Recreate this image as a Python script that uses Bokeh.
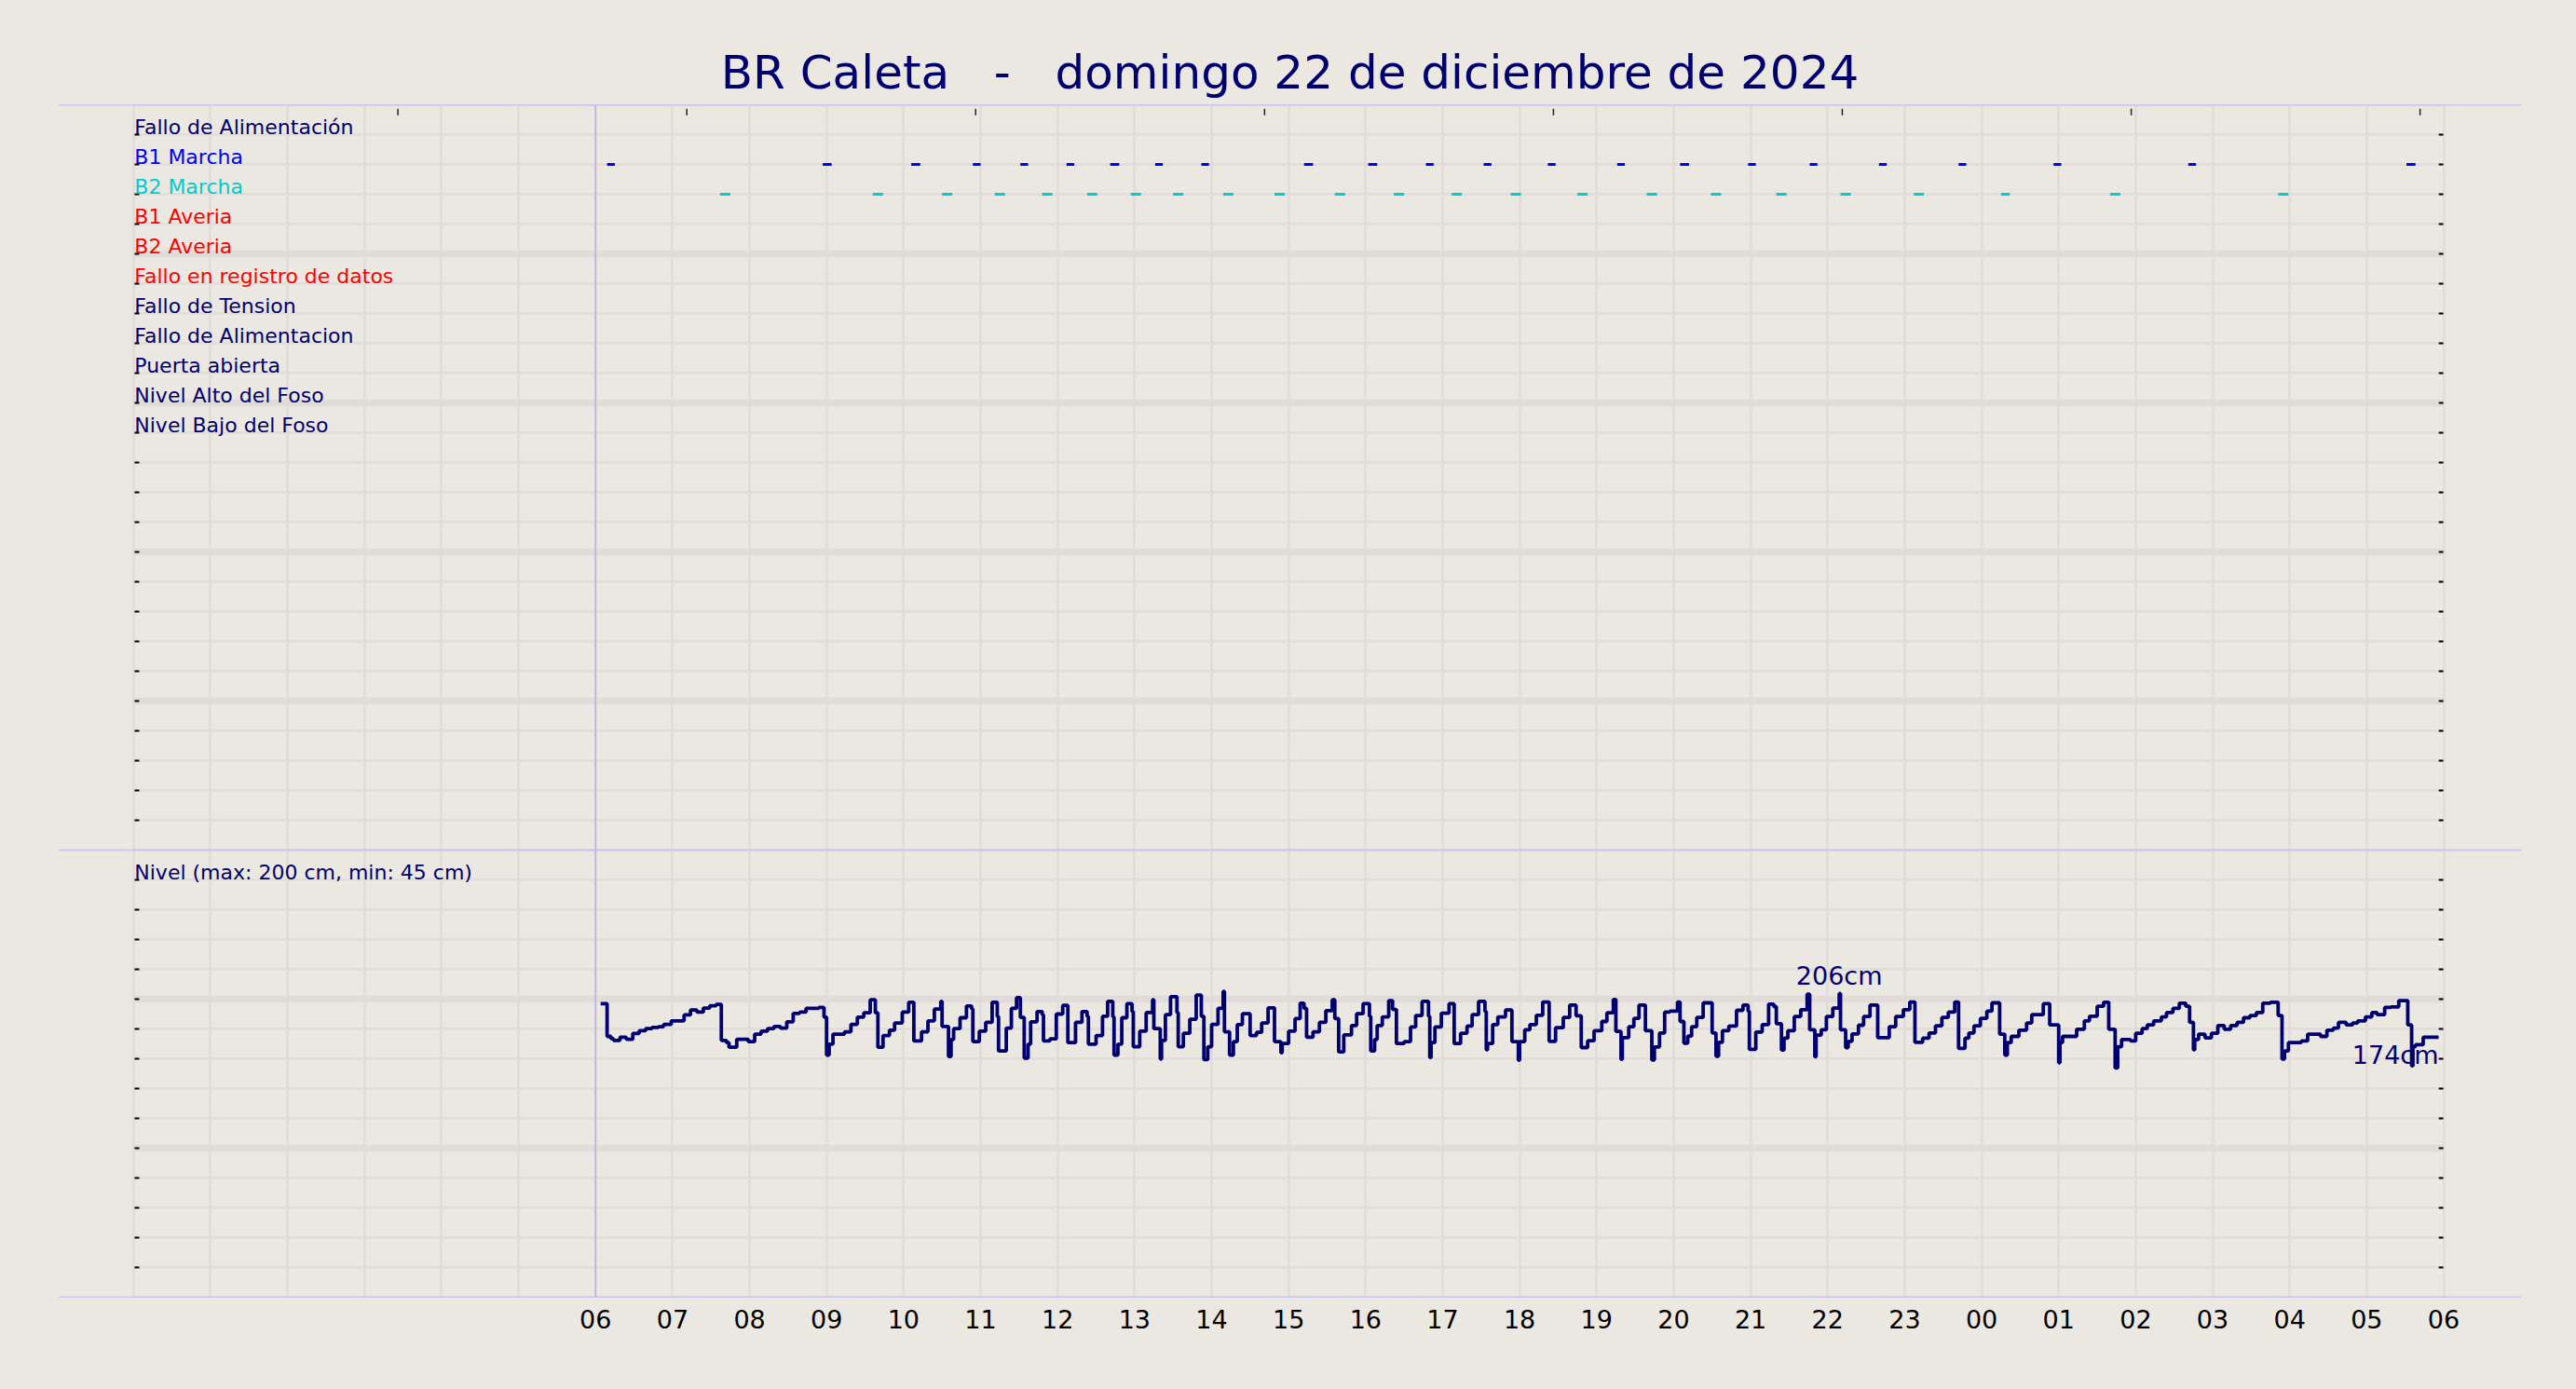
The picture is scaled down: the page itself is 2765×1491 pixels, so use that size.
from bokeh.plotting import figure
from bokeh.models import Range1d, FixedTicker, Span, Grid
from bokeh.layouts import column
from bokeh.embed import file_html
from bokeh.resources import INLINE
from bokeh.core.properties import value

# ---------------- data ----------------
titulo = "BR Caleta   -   domingo 22 de diciembre de 2024"

senales = ["Fallo de Alimentación", "B1 Marcha", "B2 Marcha", "B1 Averia", "B2 Averia",
           "Fallo en registro de datos", "Fallo de Tension", "Fallo de Alimentacion",
           "Puerta abierta", "Nivel Alto del Foso", "Nivel Bajo del Foso"]
colores_senales = ["#000070", "#0000ff", "#00cdcd", "#ff0000", "#ff0000", "#ff0000",
                   "#000070", "#000070", "#000070", "#000070", "#000070"]

horas_eje = list(range(6, 31))
etiquetas_horas = ["06", "07", "08", "09", "10", "11", "12", "13", "14", "15", "16", "17",
                   "18", "19", "20", "21", "22", "23", "00", "01", "02", "03", "04", "05", "06"]

etiqueta_nivel = "Nivel (max: 200 cm, min: 45 cm)"

# pump runs, minutes after 06:00
b1_ini = [9, 177, 246, 294, 331, 367, 401, 436, 472, 552, 602, 647, 692, 742, 796, 845,
          898, 946, 1000, 1062, 1136, 1241, 1411]
b1_fin = [15, 184, 253, 300, 337, 373, 408, 442, 478, 559, 609, 653, 698, 748, 802, 852,
          904, 952, 1006, 1068, 1142, 1247, 1418]
b2_ini = [97, 216, 270, 311, 348, 383, 417, 450, 489, 529, 576, 622, 667, 713, 765, 819,
          869, 920, 970, 1027, 1095, 1180, 1311]
b2_fin = [105, 224, 278, 319, 356, 391, 425, 458, 497, 537, 584, 630, 675, 721, 773, 827,
          877, 928, 978, 1035, 1102, 1188, 1319]

# level (cm), change points in minutes after 06:00
nivel_t = [
    4, 9, 12, 14, 19, 24, 29, 34, 39, 44,
    49, 53, 59, 69, 74, 79, 84, 89, 94, 98,
    102, 104, 110, 119, 124, 129, 134, 139, 144, 149,
    154, 159, 164, 174, 178, 180, 182, 185, 194, 199,
    204, 209, 214, 218, 220, 224, 229, 233, 239, 244,
    248, 254, 259, 264, 269, 270, 275, 277, 279, 284,
    289, 293, 294, 299, 304, 309, 313, 314, 320, 324,
    328, 331, 334, 337, 339, 344, 348, 349, 354, 359,
    364, 368, 374, 379, 383, 384, 390, 395, 399, 403,
    404, 407, 410, 414, 418, 419, 424, 429, 434, 435,
    440, 441, 444, 448, 453, 454, 458, 463, 468, 472,
    474, 477, 480, 485, 489, 490, 494, 497, 500, 504,
    510, 515, 519, 524, 529, 534, 535, 540, 545, 549,
    552, 554, 559, 564, 569, 574, 576, 579, 583, 589,
    593, 598, 603, 604, 607, 609, 613, 618, 621, 624,
    630, 635, 639, 644, 649, 650, 651, 654, 659, 665,
    669, 674, 679, 683, 688, 693, 694, 695, 699, 703,
    709, 714, 719, 720,
    724, 728, 733, 738, 743, 748, 754, 759, 764, 768,
    773, 778, 784, 788, 793, 795, 799, 800, 805, 809,
    813, 818, 823, 825, 829, 833, 837, 843, 845, 848,
    851, 854, 858, 863, 870, 873, 875, 878, 883, 889,
    894, 898, 899, 904, 909, 914, 918, 920, 924, 926,
    929, 934, 939, 944, 946, 950, 951, 955, 959, 964,
    969, 970, 974, 976, 979, 984, 988, 993, 999, 1008,
    1013, 1019, 1024, 1028, 1034, 1039, 1044, 1049, 1054, 1059,
    1062, 1067, 1070, 1074, 1079, 1084, 1088,
    1094, 1098, 1100, 1103, 1109, 1115, 1119, 1128, 1133, 1140,
    1141, 1143, 1154, 1160, 1164, 1170, 1175, 1179, 1184, 1186,
    1189, 1196, 1200, 1205, 1209, 1214, 1220, 1224, 1229, 1234,
    1239, 1242, 1245, 1246, 1249, 1254, 1259, 1264, 1269, 1274,
    1279, 1284, 1289, 1294, 1299, 1305, 1311, 1314, 1316, 1319,
    1329, 1334, 1344, 1349, 1354, 1358, 1364, 1369, 1373, 1379,
    1384, 1388, 1394, 1399, 1405, 1412, 1415, 1416, 1418, 1424,
    1436,
]
nivel_cm = [
    197, 175, 173.5, 172.3, 174.4, 173, 177, 178.8, 180.2, 181,
    181.5, 183, 185.4, 189.4, 192.7, 191.3, 194, 195.6, 196.5, 172.3,
    170.8, 167.7, 173.1, 171.5, 176.5, 178.5, 180.2, 181.7, 180.6, 184.8,
    190.4, 191.3, 193.8, 194.4, 187.9, 162.5, 169.8, 176.5, 178.1, 183.1,
    187.9, 190.8, 199.6, 190.8, 167.7, 175.6, 179.2, 184, 191.3, 197.9,
    171.9, 178.1, 185.4, 193.3, 198.5, 181.7, 161.5, 172.9, 180.2, 187.5,
    195.4, 193.5, 171.5, 178.5, 184.4, 197.9, 188.3, 165.2, 180.6, 193.8,
    201, 187.7, 160.4, 169.8, 184.8, 191.7, 189.6, 171.9, 173.3, 190,
    195.8, 170.8, 184.4, 191.7, 188.5, 169.8, 175.6, 188.5, 198.5, 188.1,
    162.5, 169.8, 187.5, 196.9, 191.7, 168.1, 178.5, 191, 199.6, 180.2,
    159.8, 172.3, 189.6, 201.7, 191, 168.1, 177.1, 186.5, 202.7, 188.5,
    159.4, 168.1, 183, 193.8, 205.2, 178.1, 162.5, 171.5, 182.9, 190.2,
    175.6, 177.7, 184, 194.2, 171.5, 164, 170.2, 178.5, 186.9, 197.3,
    193.8, 174.4, 178.1, 184.4, 192.3, 199.6, 186.9, 164.6, 176, 182.3,
    190.2, 196.9, 188.5, 165.2, 172.9, 182.3, 188.1, 199, 193.1, 170.2,
    171.5, 181.3, 189, 198.5, 188.5, 160.8, 170.8, 181.3, 190.6, 196.9,
    170.2, 177.1, 181.9, 189.6, 198.5, 191.7, 166, 170.2, 182.9, 188.1,
    192.7, 171.5, 159, 171.5,
    179.4, 182.9, 189.2, 198.1, 171.7, 180.8, 187.7, 196, 188.8, 167.5,
    172.1, 178.8, 185, 190.8, 199.8, 178.3, 159.6, 174.2, 181.5, 187.1,
    196, 178.8, 159.2, 167.9, 177.3, 191.3, 191.9, 198.1, 185, 170.4,
    175.2, 181.5, 187.7, 197.5, 177.3, 161.7, 171, 178.8, 181.9, 192.5,
    196, 191.9, 166.3, 177.9, 182.9, 196.7, 195, 183.5, 165.8, 173.8,
    178.8, 188.3, 192.9, 203.3, 179.4, 161.3, 175.8, 179.4, 188.3, 194,
    203.8, 179.4, 167.5, 171.7, 176.7, 182.5, 188.3, 196, 174.2, 181.5,
    188.3, 192.9, 198.1, 171, 173.8, 177.3, 182.1, 187.7, 191.3, 198.1,
    166.9, 173.8, 177.3, 182.1, 187.1, 191.9, 197.5,
    176.5, 162.5, 170.8, 175, 179.2, 184, 189.6, 196.9, 182.7, 157.3,
    170.8, 175, 179.8, 185.4, 188.5, 195.2, 197.9, 179.8, 153.8, 168.1,
    172.9, 171.9, 177.1, 180.2, 182.7, 185.4, 188.1, 191, 193.8, 197.3,
    195.2, 184.4, 166, 172.9, 176.5, 174, 177.1, 182.3, 179.8, 182.3,
    184.4, 187.5, 189, 191, 197.3, 197.9, 189, 159.8, 165.2, 170.8,
    171.9, 176.5, 175, 179.2, 180.6, 184.4, 182.7, 184, 185.4, 188.1,
    191, 189.6, 194.4, 194.8, 199, 182.7, 155.2, 168.1, 169.4, 174.4,
    174.4,
]
assert len(nivel_t) == len(nivel_cm)

anot_t = [969, 1436]
anot_txt = ["206cm", "174cm"]

# ---------------- style ----------------
BG = "#ebe7e1"
GRID = "#e1dcd9"
NAVY = "#000070"
BLUE_LINE = "#acacff"
FONT = "DejaVu Sans"

W = 2757
X_RANGE = Range1d(-0.9775, 31.010)
HORAS_GRID = list(range(0, 31))

# keep the triple spaces visible in SVG text (plain spaces would collapse)
titulo_svg = titulo.replace("   ", " \u00a0 ")


def h(t):
    return 6 + t / 60.0


def base_fig(height, y_range, top, bottom, **kw):
    p = figure(width=W, height=height, x_range=X_RANGE, y_range=y_range,
               y_axis_type=None, toolbar_location=None, output_backend="svg",
               min_border_left=62, min_border_right=51, min_border_top=top,
               min_border_bottom=bottom, background_fill_color=BG,
               border_fill_color=BG, outline_line_color=None, **kw)
    return p


# ---------------- top panel ----------------
top = base_fig(912, Range1d(25, 0), 112, 0, x_axis_type=None, title=titulo_svg)
top.title.text_font = FONT
top.title.text_font_size = "50px"
top.title.text_font_style = "normal"
top.title.text_color = NAVY
top.title.align = "center"
top.title.standoff = 12

top.add_layout(Grid(dimension=0, ticker=FixedTicker(ticks=HORAS_GRID),
                    grid_line_color=GRID, grid_line_width=2.7))
filas_top = list(range(0, 26))
top.segment(x0=[0] * len(filas_top), x1=[30] * len(filas_top), y0=filas_top, y1=filas_top,
            line_color=GRID, line_width=[7.5 if r in (5, 10, 15, 20) else 2.7 for r in filas_top])
marcas = list(range(1, 25))
top.segment(x0=[0.0145] * len(marcas), x1=[0.075] * len(marcas), y0=marcas, y1=marcas,
            line_color="black", line_width=2)
top.segment(x0=[29.936] * len(marcas), x1=[29.995] * len(marcas), y0=marcas, y1=marcas,
            line_color="black", line_width=2)
marcas_sup = [3.434, 7.185, 10.936, 14.688, 18.439, 22.19, 25.942, 29.693]
top.segment(x0=marcas_sup, x1=marcas_sup, y0=[0.13] * 8, y1=[0.35] * 8,
            line_color="#222222", line_width=1.5)

top.segment(x0=[h(t) for t in b1_ini], x1=[h(t) for t in b1_fin],
            y0=[2] * len(b1_ini), y1=[2] * len(b1_ini), line_color="#0000ff", line_width=3.2)
top.segment(x0=[h(t) for t in b2_ini], x1=[h(t) for t in b2_fin],
            y0=[3] * len(b2_ini), y1=[3] * len(b2_ini), line_color="#00cdcd", line_width=3.2)

top.text(x=[0] * len(senales), y=list(range(1, len(senales) + 1)), text=senales,
         text_color=colores_senales, text_font=value(FONT), text_font_size="22px",
         text_align="left", text_baseline="alphabetic", x_offset=1, y_offset=-8)

for loc in (0, 25):
    top.add_layout(Span(location=loc, dimension="width", line_color=BLUE_LINE, line_width=1.6))
top.add_layout(Span(location=6, dimension="height", line_color=BLUE_LINE, line_width=1.4))

# ---------------- bottom panel ----------------
bot = base_fig(571, Range1d(0, 300), 0, 91)
bot.xgrid.ticker = FixedTicker(ticks=HORAS_GRID)
bot.xgrid.grid_line_color = GRID
bot.xgrid.grid_line_width = 2.7
bot.ygrid.visible = False

ax = bot.xaxis[0]
ax.ticker = FixedTicker(ticks=horas_eje)
ax.major_label_overrides = {hh: lab for hh, lab in zip(horas_eje, etiquetas_horas)}
ax.axis_line_color = None
ax.major_tick_line_color = None
ax.minor_tick_line_color = None
ax.major_tick_out = 0
ax.major_tick_in = 0
ax.major_label_standoff = 13
ax.major_label_text_font = FONT
ax.major_label_text_font_size = "27px"
ax.major_label_text_color = "black"

niveles = list(range(0, 301, 20))
bot.segment(x0=[0] * len(niveles), x1=[30] * len(niveles), y0=niveles, y1=niveles,
            line_color=GRID, line_width=[7.5 if v in (100, 200) else 2.7 for v in niveles])
marcas_n = list(range(20, 300, 20))
bot.segment(x0=[0.0145] * len(marcas_n), x1=[0.075] * len(marcas_n), y0=marcas_n, y1=marcas_n,
            line_color="black", line_width=2)
bot.segment(x0=[29.936] * len(marcas_n), x1=[29.995] * len(marcas_n), y0=marcas_n, y1=marcas_n,
            line_color="black", line_width=2)

bot.step(x=[h(t) for t in nivel_t], y=nivel_cm, mode="after",
         line_color=NAVY, line_width=3.8)

bot.text(x=[0], y=[280], text=[etiqueta_nivel], text_color=NAVY, text_font=value(FONT),
         text_font_size="22px", text_align="left", text_baseline="alphabetic",
         x_offset=1, y_offset=-8)


def nivel_en(t):
    return nivel_cm[nivel_t.index(t)]


bot.text(x=[h(anot_t[0])], y=[nivel_en(anot_t[0])], text=[anot_txt[0]], text_color=NAVY,
         text_font=value(FONT), text_font_size="27px", text_align="center",
         text_baseline="alphabetic", y_offset=-19)
bot.text(x=[h(anot_t[1])], y=[nivel_en(anot_t[1])], text=[anot_txt[1]], text_color=NAVY,
         text_font=value(FONT), text_font_size="27px", text_align="right",
         text_baseline="alphabetic", y_offset=19)

for loc in (0, 300):
    bot.add_layout(Span(location=loc, dimension="width", line_color=BLUE_LINE, line_width=1.6))
bot.add_layout(Span(location=6, dimension="height", line_color=BLUE_LINE, line_width=1.4))

layout = column(top, bot, spacing=0)
layout.styles = {"background-color": BG}

html = file_html(layout, INLINE, title="BR Caleta")
html = html.replace("<body>", '<body style="background-color:%s;">' % BG)
open("out.html", "w").write(html)
